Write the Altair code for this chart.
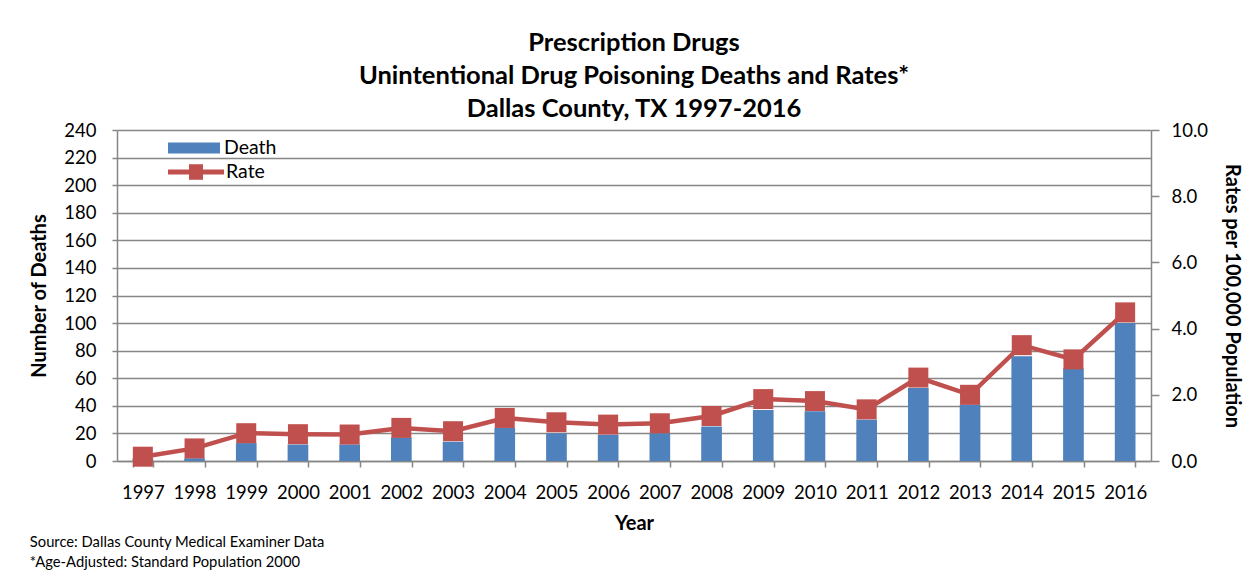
import altair as alt
import pandas as pd

years = [str(y) for y in range(1997, 2017)]
deaths = [2, 2, 13, 12, 12, 17, 14, 24, 20, 19, 20, 25, 37, 36, 30, 53, 41, 76, 67, 100]
rates = [0.13, 0.38, 0.84, 0.81, 0.80, 1.00, 0.90, 1.30, 1.17, 1.10, 1.14, 1.36, 1.87, 1.81, 1.56, 2.52, 2.00, 3.50, 3.07, 4.49]

df = pd.DataFrame({"Year": years, "Deaths": deaths, "Rate": rates,
                   "s1": ["Death"] * len(years), "s2": ["Rate"] * len(years)})

FONT = "Lato"
BLUE = "#4f81bd"
RED = "#c0504d"
GRID = "#868686"
LBL = 18.5
TTL = 20

x = alt.X("Year:O", title="Year",
          scale=alt.Scale(paddingInner=0.6, paddingOuter=0.3),
          axis=alt.Axis(labelAngle=0, tickBand="extent", labelFontSize=LBL,
                        labelPadding=16, tickSize=6, titleFontSize=TTL,
                        titleFontWeight="bold", titlePadding=12,
                        domainColor=GRID, tickColor=GRID, domainWidth=1.5, tickWidth=1.5))

bars = alt.Chart(df).mark_bar(color=BLUE).encode(
    x=x,
    y=alt.Y("Deaths:Q", title="Number of Deaths",
            scale=alt.Scale(domain=[0, 240], nice=False),
            axis=alt.Axis(values=list(range(0, 241, 20)), grid=True, gridColor=GRID,
                          gridWidth=1.5, labelFontSize=LBL, tickSize=5, labelPadding=16,
                          titleFontSize=TTL, titleFontWeight="bold", titlePadding=14,
                          domainColor=GRID, tickColor=GRID, domainWidth=1.5, tickWidth=1.5)),
    color=alt.Color("s1:N", scale=alt.Scale(domain=["Death"], range=[BLUE]),
                    legend=alt.Legend(title=None, orient="none", legendX=51, legendY=-8,
                                      symbolType="M-1,-0.21L1,-0.21L1,0.21L-1,0.21Z",
                                      symbolSize=2704, symbolStrokeWidth=0,
                                      labelFontSize=19.5, labelOffset=4)),
)

rate_y = alt.Y("Rate:Q", title="Rates per 100,000 Population",
               scale=alt.Scale(domain=[0, 10], nice=False),
               axis=alt.Axis(values=[0, 2, 4, 6, 8, 10], format=".1f", orient="right",
                             grid=False, labelFontSize=LBL, tickSize=8, labelPadding=12,
                             titleFontSize=TTL, titleFontWeight="bold", titlePadding=14,
                             domainColor=GRID, tickColor=GRID, domainWidth=1.5, tickWidth=1.5))

line = alt.Chart(df).mark_line(color=RED, strokeWidth=4.5).encode(x="Year:O", y=rate_y)

points = alt.Chart(df).mark_point(shape="square", filled=True, size=400, opacity=1).encode(
    x="Year:O",
    y=rate_y,
    color=alt.Color("s2:N", scale=alt.Scale(domain=["Rate"], range=[RED]),
                    legend=alt.Legend(title=None, orient="none", legendX=51, legendY=14,
                                      symbolType="M-1,-0.09L-0.25,-0.09L-0.25,-0.28L0.25,-0.28L0.25,-0.09L1,-0.09L1,0.09L0.25,0.09L0.25,0.28L-0.25,0.28L-0.25,0.09L-1,0.09Z",
                                      symbolSize=3136, symbolStrokeWidth=0,
                                      labelFontSize=19.5, labelOffset=2)),
)

rate_layer = alt.layer(line, points)

main = alt.layer(bars, rate_layer).resolve_scale(y="independent", color="independent").properties(
    width=1034, height=331,
    title=alt.TitleParams(
        ["Prescription Drugs", "Unintentional Drug Poisoning Deaths and Rates*", "Dallas County, TX 1997-2016"],
        fontSize=25.5, fontWeight="bold", lineHeight=33, anchor="middle", frame="group", offset=-1,
        font=FONT, color="black"),
)

chart = alt.vconcat(main).properties(
    title=alt.TitleParams(
        ["Source: Dallas County Medical Examiner Data", "*Age-Adjusted: Standard Population 2000"],
        orient="bottom", anchor="start", fontSize=14.75, fontWeight="normal", lineHeight=20,
        font=FONT, color="black", offset=1),
    padding={"left": 29, "top": 30, "right": 5, "bottom": 5},
).configure(font=FONT).configure_view(stroke=None).configure_axis(
    labelFont=FONT, titleFont=FONT, labelColor="black", titleColor="black"
).configure_legend(labelFont=FONT, labelColor="black", padding=0)

chart.save("out.html", embed_options={"renderer": "svg", "actions": False})
